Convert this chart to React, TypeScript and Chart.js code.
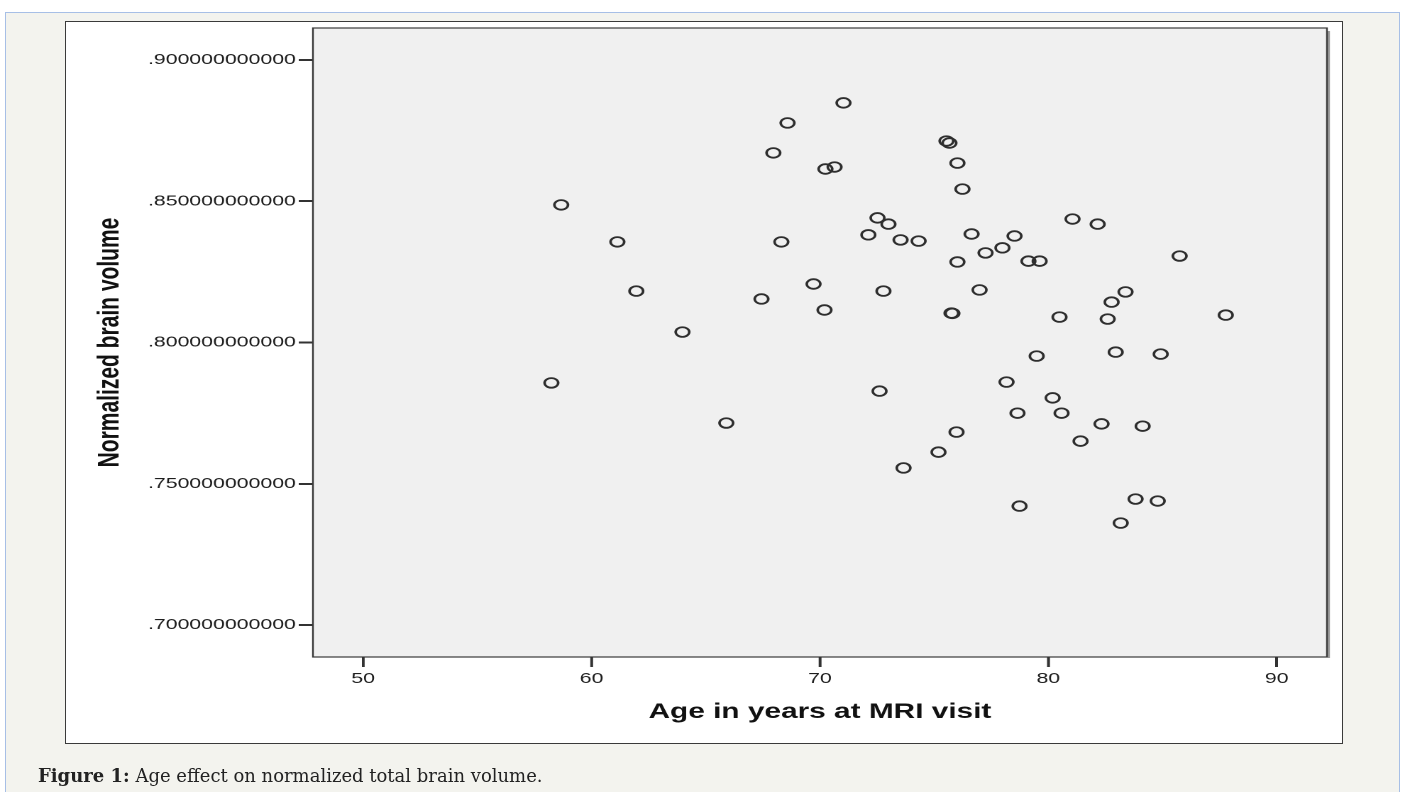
import { useEffect, useRef } from 'react';
import { Chart, registerables } from 'chart.js';

Chart.register(...registerables);

// age (years) and normalized brain volume per subject
const AGES = [
  58.67, 61.13, 61.96, 67.44, 63.98, 58.24, 65.9, 71.03, 68.58, 67.96,
  70.24, 70.64, 75.54, 75.67, 76.02, 76.24, 72.52, 73.0, 72.12, 73.53,
  74.32, 68.31, 76.64, 78.52, 77.99, 77.25, 76.02, 69.72, 72.78, 76.99,
  70.2, 75.76, 75.8, 81.06, 82.16, 79.13, 79.62, 85.75, 83.38, 82.77,
  80.49, 82.6, 87.77, 79.49, 82.95, 84.92, 78.17, 80.19, 78.65, 80.58,
  82.33, 84.13, 81.41, 78.74, 83.82, 84.79, 83.17, 72.61, 75.98, 75.19,
  73.66,
];
const VOLUMES = [
  0.8487, 0.8356, 0.8182, 0.8154, 0.8037, 0.7857, 0.7715, 0.8848, 0.8777, 0.8671,
  0.8614, 0.8621, 0.8713, 0.8706, 0.8635, 0.8543, 0.8441, 0.8419, 0.8381, 0.8363,
  0.8359, 0.8356, 0.8384, 0.8377, 0.8335, 0.8317, 0.8285, 0.8207, 0.8182, 0.8186,
  0.8115, 0.8104, 0.8103, 0.8437, 0.8419, 0.8288, 0.8288, 0.8306, 0.8179, 0.8143,
  0.809, 0.8083, 0.8097, 0.7952, 0.7966, 0.7959, 0.786, 0.7804, 0.775, 0.775,
  0.7712, 0.7704, 0.7651, 0.7421, 0.7446, 0.7439, 0.7361, 0.7828, 0.7683, 0.7612,
  0.7556,
];

const X_TICKS = [50, 60, 70, 80, 90];
const Y_TICKS = [0.7, 0.75, 0.8, 0.85, 0.9];
const Y_TICK_LABELS = ['.700000000000', '.750000000000', '.800000000000', '.850000000000', '.900000000000'];

const X_TITLE = 'Age in years at MRI visit';
const Y_TITLE = 'Normalized brain volume';

// the original graphic is stretched sideways, so the canvas is drawn narrow and widened by CSS
const STRETCH = 1.4192;
const CANVAS_W = 990;
const CANVAS_H = 792;
const TICK_LEN = 10;

const plotFrame = {
  id: 'plotFrame',
  beforeDraw(chart: Chart) {
    const { ctx, chartArea: a } = chart;
    ctx.save();
    ctx.fillStyle = '#f0f0f0';
    ctx.fillRect(a.left, a.top, a.right - a.left, a.bottom - a.top);
    ctx.restore();
  },
  beforeDatasetsDraw(chart: Chart) {
    const { ctx, chartArea: a } = chart;
    ctx.save();
    // soft shadow on the right edge
    ctx.strokeStyle = '#9a9a9a';
    ctx.lineWidth = 1.6;
    ctx.beginPath();
    ctx.moveTo(a.right + 1.3, a.top + 3);
    ctx.lineTo(a.right + 1.3, a.bottom + 1);
    ctx.stroke();
    ctx.strokeStyle = '#3a3a3a';
    ctx.lineWidth = 1.2;
    ctx.strokeRect(a.left, a.top, a.right - a.left, a.bottom - a.top);
    // x tick marks below the frame
    const xs = chart.scales.x;
    ctx.strokeStyle = '#333';
    ctx.lineWidth = 1.8;
    ctx.beginPath();
    xs.ticks.forEach((t: any) => {
      const px = xs.getPixelForValue(t.value);
      ctx.moveTo(px, a.bottom);
      ctx.lineTo(px, a.bottom + TICK_LEN);
    });
    ctx.stroke();
    ctx.restore();
  },
};

export default function App() {
  const canvasRef = useRef<HTMLCanvasElement>(null);
  const chartRef = useRef<Chart | null>(null);

  useEffect(() => {
    if (!canvasRef.current) return;
    if (chartRef.current) chartRef.current.destroy();

    const points = AGES.map((age, i) => ({ x: age, y: VOLUMES[i] }));

    chartRef.current = new Chart(canvasRef.current, {
      type: 'scatter',
      data: {
        datasets: [
          {
            data: points,
            pointStyle: 'circle',
            pointRadius: 4.8,
            pointHoverRadius: 4.8,
            pointBorderWidth: 1.8,
            pointBorderColor: '#2e2e2e',
            pointBackgroundColor: 'rgba(0,0,0,0)',
          },
        ],
      },
      options: {
        responsive: false,
        animation: false,
        devicePixelRatio: 2,
        layout: { padding: { left: 45.8, top: 28, right: 55, bottom: 49 } },
        plugins: {
          legend: { display: false },
          tooltip: { enabled: false },
        },
        scales: {
          x: {
            type: 'linear',
            min: 47.8,
            max: 92.2,
            afterBuildTicks: (axis: any) => {
              axis.ticks = X_TICKS.map((v) => ({ value: v }));
            },
            afterFit: (axis: any) => {
              axis.height = 86;
            },
            border: { display: false },
            grid: {
              drawOnChartArea: false,
              drawTicks: true,
              tickLength: TICK_LEN,
              lineWidth: 1.8,
              tickWidth: 1.8,
              tickColor: '#333',
            },
            ticks: {
              padding: 3,
              color: '#1e1e1e',
              font: { family: 'Liberation Sans', size: 15 },
              callback: (v: any) => String(v),
            },
            title: {
              display: true,
              text: X_TITLE,
              color: '#111',
              font: { family: 'Liberation Sans', size: 21, weight: 'bold' },
              padding: { top: 0, bottom: 18.4 },
            },
          },
          y: {
            type: 'linear',
            min: 0.6887,
            max: 0.9113,
            afterBuildTicks: (axis: any) => {
              axis.ticks = Y_TICKS.map((v) => ({ value: v }));
            },
            afterFit: (axis: any) => {
              axis.width = 174.7;
            },
            border: { display: false },
            grid: {
              drawOnChartArea: false,
              drawTicks: true,
              tickLength: TICK_LEN,
              lineWidth: 2,
              tickWidth: 2,
              tickColor: '#333',
            },
            ticks: {
              padding: 2,
              color: '#1e1e1e',
              font: { family: 'Liberation Sans', size: 15 },
              callback: (_v: any, i: number) => Y_TICK_LABELS[i],
            },
            title: {
              display: true,
              text: Y_TITLE,
              color: '#111',
              font: { family: 'Liberation Sans', size: 21, weight: 'bold' },
              padding: { top: 19.1, bottom: 0 },
            },
          },
        },
      },
      plugins: [plotFrame],
    });

    return () => {
      if (chartRef.current) {
        chartRef.current.destroy();
        chartRef.current = null;
      }
    };
  }, []);

  return (
    <div
      style={{
        position: 'absolute',
        left: 0,
        top: 0,
        width: 1405,
        height: 792,
        overflow: 'hidden',
        background: '#fff',
      }}
    >
      <div
        style={{
          position: 'absolute',
          left: 5,
          top: 12,
          width: 1395,
          height: 800,
          boxSizing: 'border-box',
          border: '1.5px solid #a7bfe6',
          background: '#f3f3ee',
        }}
      />
      <div
        style={{
          position: 'absolute',
          left: 65,
          top: 21,
          width: 1278,
          height: 723,
          boxSizing: 'border-box',
          border: '1px solid #3a3a3a',
          background: '#fff',
        }}
      />
      <canvas
        ref={canvasRef}
        width={CANVAS_W}
        height={CANVAS_H}
        style={{
          position: 'absolute',
          left: 0,
          top: 0,
          width: CANVAS_W * STRETCH,
          height: CANVAS_H,
        }}
      />
      <div
        style={{
          position: 'absolute',
          left: 38,
          top: 765,
          fontFamily: '"DejaVu Serif", serif',
          fontSize: 18,
          color: '#222',
          whiteSpace: 'nowrap',
        }}
      >
        <b>Figure 1:</b> Age effect on normalized total brain volume.
      </div>
    </div>
  );
}
